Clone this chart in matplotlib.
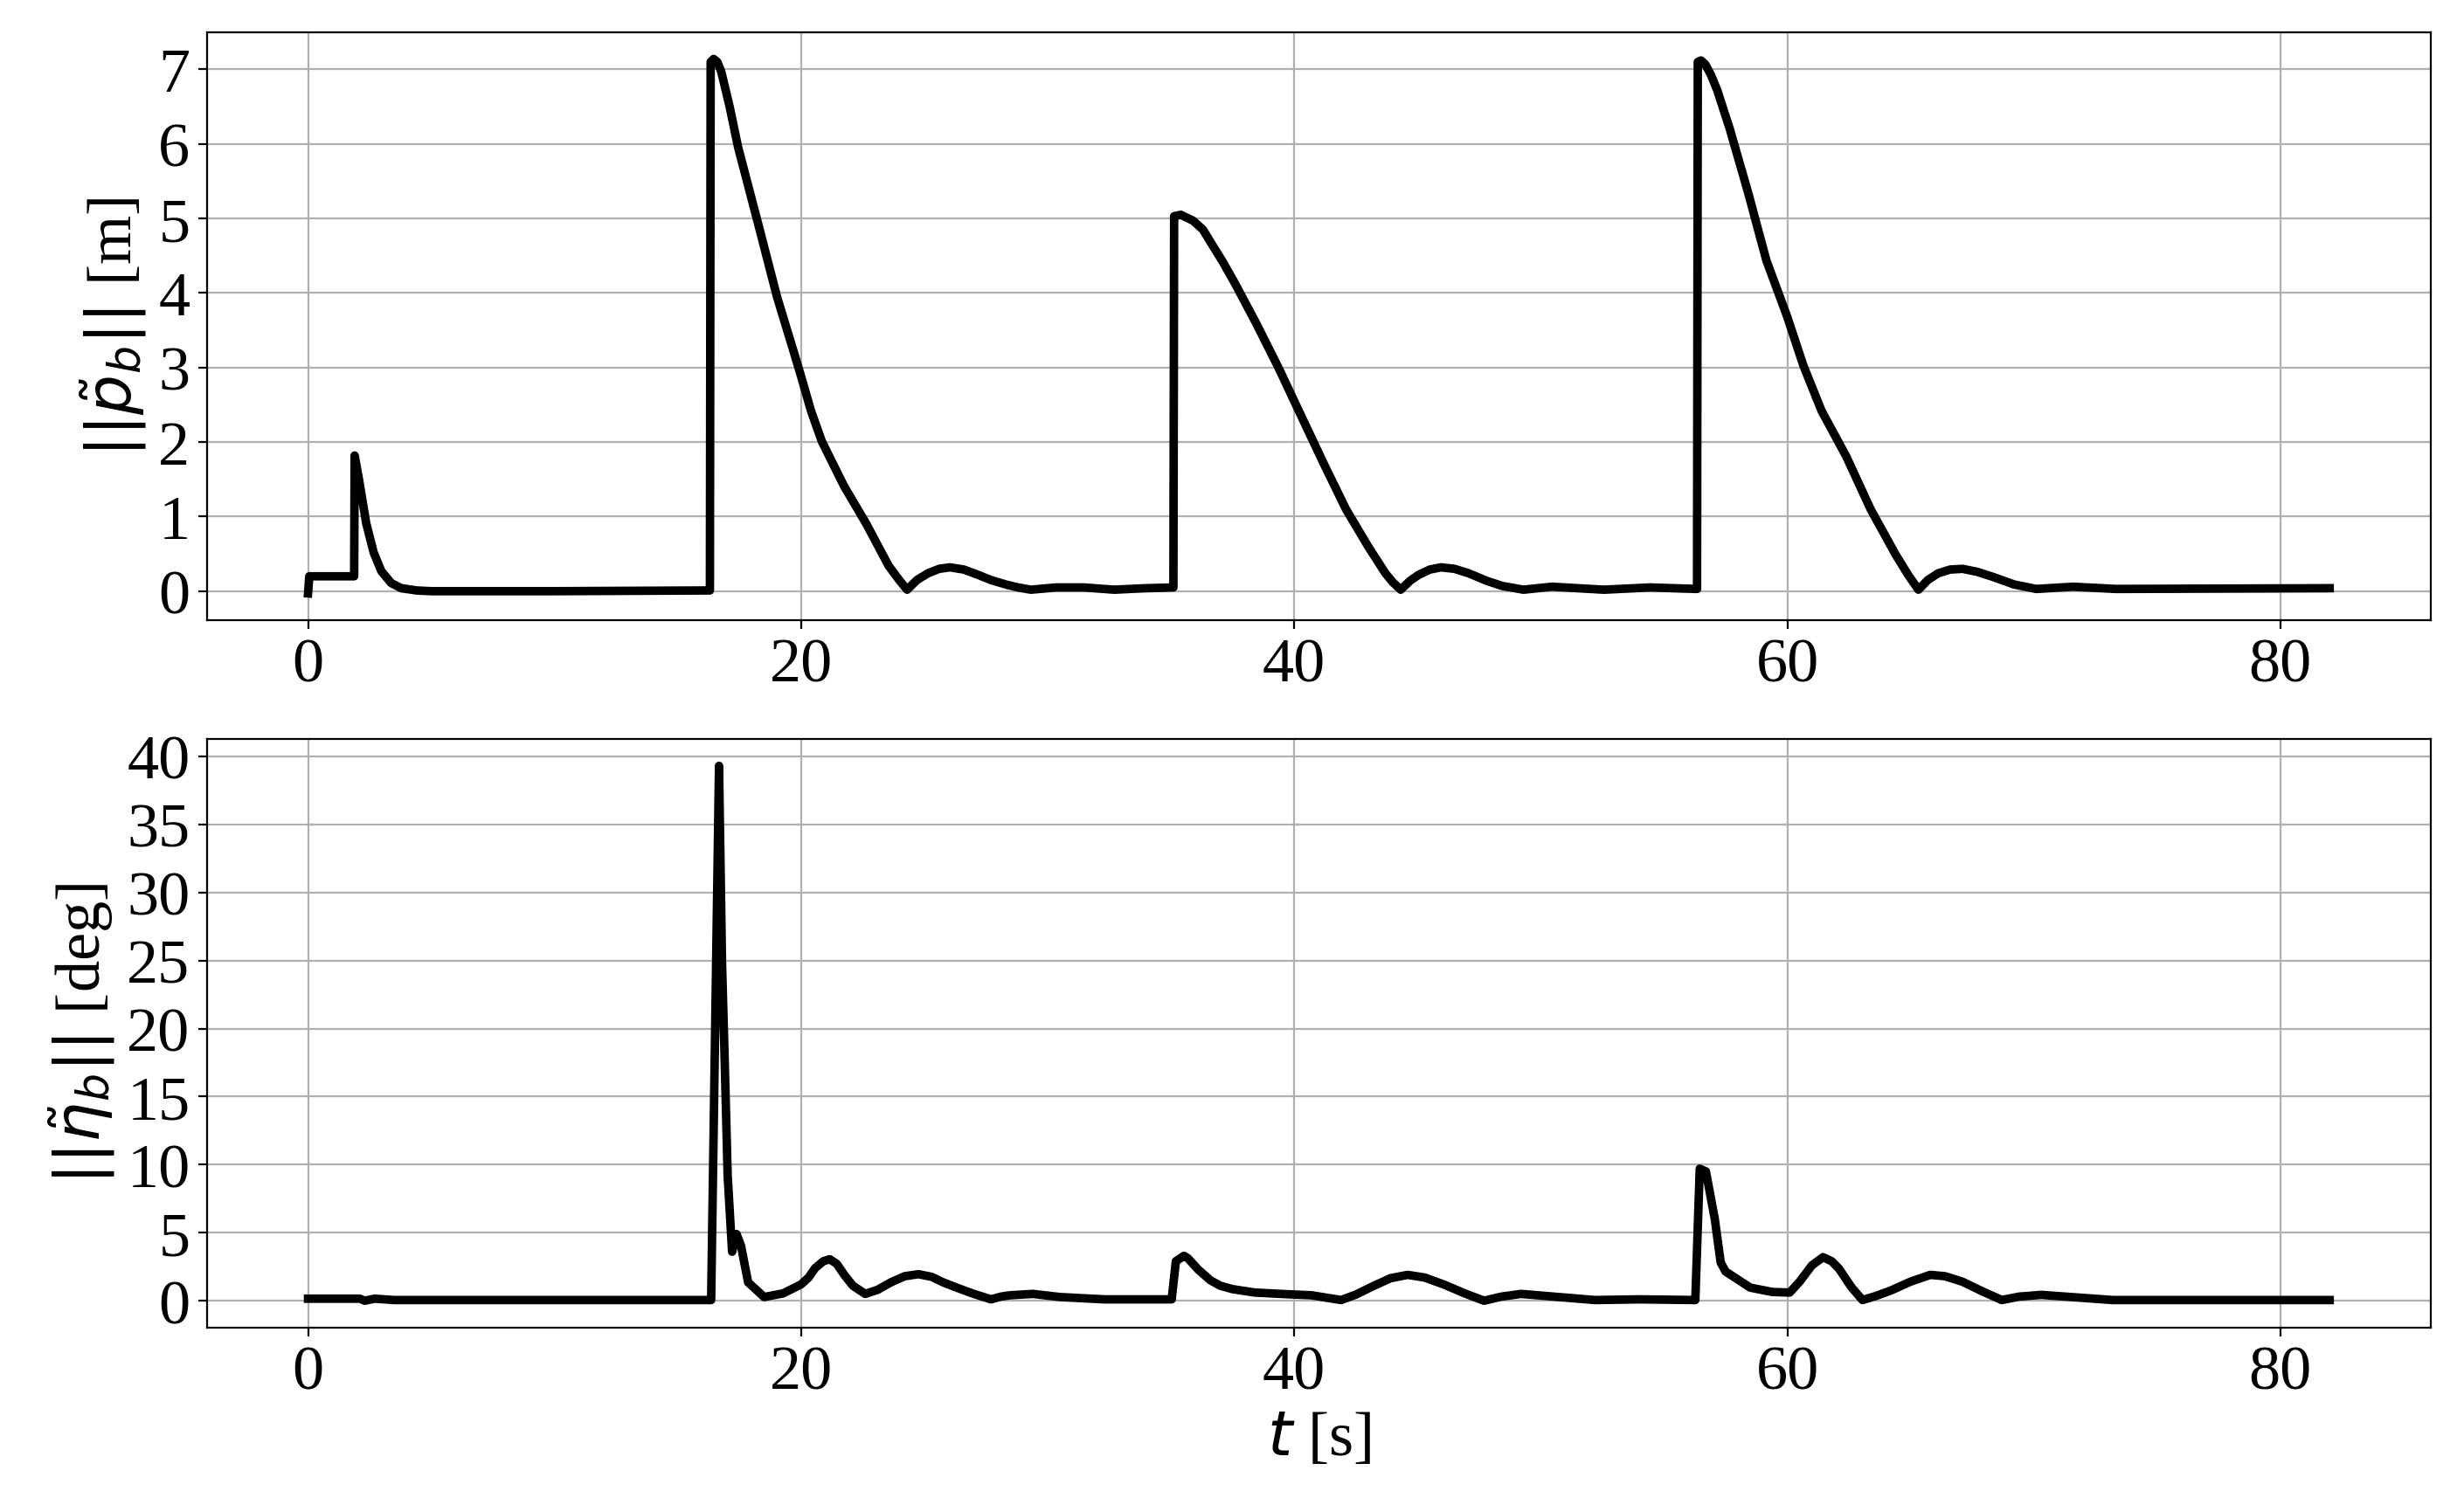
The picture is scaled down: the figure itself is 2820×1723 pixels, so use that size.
import matplotlib
matplotlib.use('Agg')
import matplotlib.pyplot as plt

plt.rcParams['font.family'] = 'serif'
plt.rcParams['font.serif'] = ['Liberation Serif', 'DejaVu Serif']
plt.rcParams['font.size'] = 26

# position error norm [m]
t_pos = [0, 0.05, 1.87, 1.89, 2.05, 2.36, 2.66, 2.97, 3.37, 3.78, 4.4, 5.0, 10.0,
         16.3, 16.33, 16.45, 16.6, 16.76, 17.1, 17.44, 18.24, 19.03, 19.71, 20.0,
         20.4, 20.84, 21.74, 22.65, 23.55, 24.0, 24.3, 24.7, 25.14, 25.6, 26.04,
         26.6, 27.17, 27.7, 28.3, 28.8, 29.32, 30.34, 31.47, 32.7, 33.96, 35.1,
         35.13, 35.4, 35.9, 36.3, 36.67, 37.1, 37.58, 38.48, 39.39, 40.0, 41.2,
         42.1, 43.0, 43.7, 44.0, 44.32, 44.7, 45.05, 45.5, 45.95, 46.5, 47.08,
         47.8, 48.44, 49.3, 50.45, 52.56, 54.43, 56.34, 56.37, 56.5, 56.67, 56.9,
         57.16, 57.66, 58.41, 59.15, 60.0, 60.65, 61.39, 62.39, 63.38, 64.38, 64.9,
         65.32, 65.7, 66.12, 66.6, 67.11, 67.7, 68.36, 69.2, 70.1, 71.6, 73.33,
         82.0]
p_err = [-0.03, 0.2, 0.2, 1.82, 1.53, 0.91, 0.52, 0.27, 0.11, 0.04, 0.01, 0.0, 0.0,
         0.01, 7.1, 7.14, 7.1, 6.97, 6.5, 5.96, 4.95, 3.94, 3.2, 2.88,
         2.42, 2.01, 1.41, 0.90, 0.34, 0.14, 0.02, 0.15, 0.24, 0.30, 0.32,
         0.29, 0.22, 0.15, 0.09, 0.05, 0.02, 0.05, 0.05, 0.02, 0.04, 0.05,
         5.03, 5.05, 4.97, 4.85, 4.65, 4.42, 4.14, 3.58, 2.98, 2.55, 1.71,
         1.10, 0.60, 0.24, 0.12, 0.02, 0.14, 0.22, 0.29, 0.32, 0.30, 0.24,
         0.14, 0.07, 0.02, 0.06, 0.02, 0.05, 0.03, 7.1, 7.12, 7.07, 6.93,
         6.72, 6.21, 5.35, 4.44, 3.68, 3.03, 2.42, 1.81, 1.10, 0.50, 0.22,
         0.02, 0.15, 0.24, 0.29, 0.30, 0.26, 0.19, 0.09, 0.03, 0.06, 0.03,
         0.04]

# attitude error norm [deg]
t_ang = [0, 2.1, 2.3, 2.7, 3.5, 16.35, 16.67, 16.79, 16.9, 17.02, 17.2, 17.38,
         17.56, 17.85, 18.5, 19.27, 20.0, 20.3, 20.57, 20.9, 21.16, 21.45, 21.75,
         22.1, 22.6, 23.1, 23.64, 24.2, 24.76, 25.3, 25.76, 26.4, 26.94, 27.7,
         28.1, 28.48, 29.4, 30.5, 32.3, 35.03, 35.2, 35.53, 35.7, 36.1, 36.6,
         37.0, 37.5, 38.4, 39.8, 40.7, 41.9, 42.5, 43.2, 43.9, 44.6, 45.3, 46.1,
         46.9, 47.7, 48.4, 49.2, 51.2, 52.2, 54.0, 56.27, 56.45, 56.7, 57.06,
         57.3, 57.5, 58.5, 59.4, 60.1, 60.5, 61.0, 61.45, 61.8, 62.1, 62.6, 63.05,
         63.6, 64.2, 65.0, 65.8, 66.4, 67.1, 67.9, 68.7, 69.4, 70.3, 73.2, 82.0]
eta_err = [0.15, 0.15, 0.0, 0.15, 0.05, 0.05, 39.3, 24.9, 17.6, 9.2, 3.6, 4.9,
           4.05, 1.35, 0.27, 0.54, 1.2, 1.7, 2.4, 2.9, 3.05, 2.7, 1.9,
           1.1, 0.5, 0.8, 1.35, 1.8, 1.95, 1.75, 1.35, 0.9, 0.54, 0.1,
           0.3, 0.4, 0.5, 0.27, 0.1, 0.1, 2.9, 3.3, 3.1, 2.3, 1.5,
           1.1, 0.85, 0.6, 0.47, 0.4, 0.05, 0.45, 1.07, 1.65, 1.9, 1.7, 1.17,
           0.55, 0.0, 0.3, 0.5, 0.2, 0.05, 0.1, 0.05, 9.7, 9.5, 6.0,
           2.8, 2.14, 0.96, 0.64, 0.6, 1.4, 2.6, 3.2, 2.9, 2.35, 1.0, 0.05,
           0.35, 0.75, 1.4, 1.9, 1.8, 1.4, 0.7, 0.05, 0.3, 0.43, 0.05, 0.05]

fig, (ax1, ax2) = plt.subplots(2, 1, figsize=(14.1, 8.62), dpi=200)
ax1.set_position([0.084, 0.5876, 0.9865 - 0.084, 0.978 - 0.5876])
ax2.set_position([0.084, 0.1179, 0.9865 - 0.084, 0.5086 - 0.1179])

ax1.plot(t_pos, p_err, 'k', linewidth=3.5)
ax1.set_ylabel(r'$||\tilde{p}_b||$ [m]')
ax1.set_xticks([0, 20, 40, 60, 80])
ax1.set_yticks(range(0, 8))
ax1.grid(True)

ax2.plot(t_ang, eta_err, 'k', linewidth=3.5)
ax2.set_ylabel(r'$||\tilde{\eta}_b||$ [deg]')
ax2.set_xlabel(r'$t$ [s]')
ax2.set_xticks([0, 20, 40, 60, 80])
ax2.set_yticks(range(0, 41, 5))
ax2.grid(True)

fig.savefig('out.png', dpi=200)
